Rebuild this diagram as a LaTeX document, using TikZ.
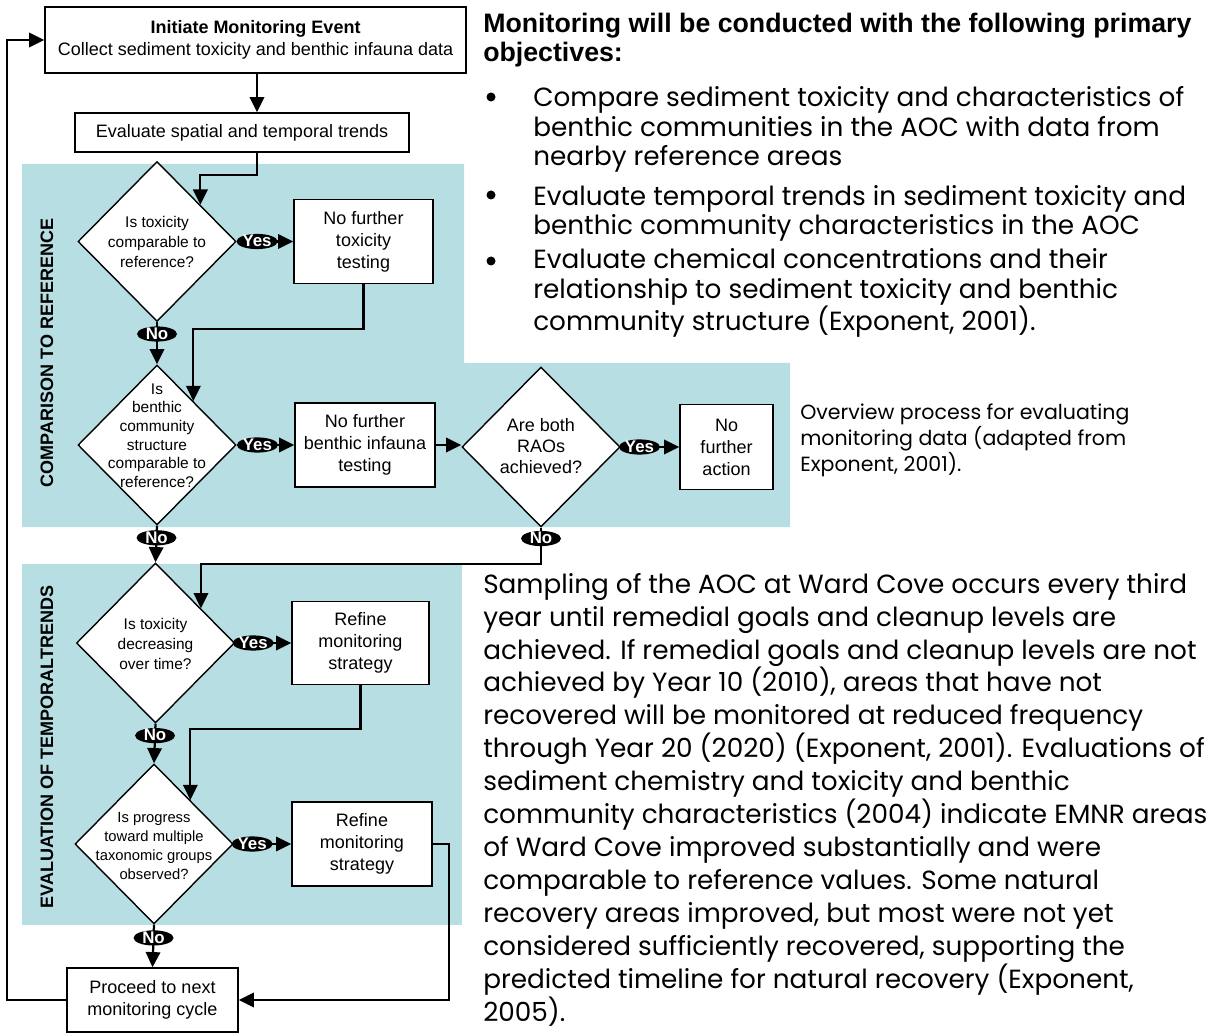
\documentclass[tikz,border=0pt]{standalone}
\usepackage{fontspec}
\setmainfont{Liberation Sans}
\newfontfamily\gothic{Poppins}
\usetikzlibrary{shapes.geometric,arrows.meta,calc}
\definecolor{panel}{RGB}{183,222,226}
% diamond text that does not size the diamond
\newcommand{\qtext}[2][-4.2pt]{\makebox[0pt]{\smash{\raisebox{#1}{\begin{tabular}{@{}c@{}}#2\end{tabular}}}}}

\begin{document}
\begin{tikzpicture}[x=0.025cm, y=-0.025cm,
  box/.style={draw, line width=1pt, fill=white, align=center, inner sep=0pt, font=\fontsize{12.8}{15.6}\selectfont},
  decision/.style={diamond, draw, line width=1pt, fill=white, inner sep=0pt, minimum width=3.95cm, minimum height=4cm, font=\fontsize{11}{14.2}\selectfont},
  yn/.style={ellipse, fill=black, text=white, inner sep=0pt, minimum width=1cm, minimum height=0.38cm, text height=7.5pt, text depth=0pt, font=\bfseries\fontsize{12}{12}\selectfont},
  flow/.style={line width=1.6pt, -{Triangle[length=0.38cm, width=0.36cm]}},
  side/.style={rotate=90, font=\bfseries\fontsize{12.8}{14}\selectfont},
  prose/.style={anchor=base west, align=left, inner sep=0pt, font=\gothic\fontsize{18.7}{21.3}\selectfont}]
  \useasboundingbox (0,0) rectangle (1210,1036);

  % Shaded panels
  \fill[panel] (22,164) -- (464,164) -- (464,363) -- (790,363) -- (790,527) -- (22,527) -- cycle;
  \fill[panel] (22,564) rectangle (462,925);
  \node[side] (cmp) at (47,353) {COMPARISON TO REFERENCE};
  \node[side] (evl) at (47,747) {EVALUATION OF TEMPORALTRENDS};

  % Boxes and decisions
  \node[box, minimum width=10.525cm, minimum height=1.65cm] (init) at (255.5,40)
    {\textbf{Initiate Monitoring Event}\\Collect sediment toxicity and benthic infauna data};
  \node[box, minimum width=8.35cm, minimum height=0.975cm] (eval) at (242,132.5)
    {Evaluate spatial and temporal trends};
  \node[decision] (dtox) at (157,241.5) {\qtext{Is toxicity\\comparable to\\reference?}};
  \node[box, minimum width=3.475cm, minimum height=2.1cm] (ntox) at (363.5,241.5)
    {No further\\toxicity\\testing};
  \node[decision, font=\fontsize{11}{13.2}\selectfont] (dben) at (157,445)
    {\qtext[2.9pt]{Is\\benthic\\community\\structure\\comparable to\\reference?}};
  \node[box, minimum width=3.5cm, minimum height=2.1cm] (nben) at (365,445)
    {No further\\benthic infauna\\testing};
  \node[decision, font=\fontsize{12.8}{15.2}\selectfont] (drao) at (541,447)
    {\qtext[-3.9pt]{Are both\\RAOs\\achieved?}};
  \node[box, minimum width=2.325cm, minimum height=2.125cm] (nact) at (726.5,447)
    {No\\further\\action};
  \node[decision] (dtrend) at (155.5,643) {\qtext{Is toxicity\\decreasing\\over time?}};
  \node[box, minimum width=3.425cm, minimum height=2.075cm] (rmon1) at (360.5,643)
    {Refine\\monitoring\\strategy};
  \node[decision, font=\fontsize{10.5}{13.7}\selectfont] (dprog) at (154,844)
    {\qtext[-4.9pt]{Is progress\\toward multiple\\taxonomic groups\\observed?}};
  \node[box, minimum width=3.5cm, minimum height=2.1cm] (rmon2) at (362,844)
    {Refine\\monitoring\\strategy};
  \node[box, minimum width=4.275cm, minimum height=1.6cm] (next) at (152.5,1000)
    {Proceed to next\\monitoring cycle};

  % Connectors
  \draw[flow] (init.south -| 257,0) -- (eval.north -| 257,0);
  \draw[flow] (eval.south -| 257,0) -- (257,175) -| ($(dtox.north)!0.544!(dtox.east)$);
  \draw[flow] (dtox.east) -- node[yn, pos=0.36] (y1) {Yes} (ntox.west);
  \draw[flow] (dtox.south) -- node[yn, pos=0.28] (n1) {No} (dben.north);
  \draw[flow] (ntox.south) -- ++(0,45) -| ($(dben.north)!0.456!(dben.east)$);
  \draw[flow] (dben.east) -- node[yn, pos=0.36] (y2) {Yes} (nben.west);
  \draw[flow] (nben.east) -- (drao.west |- nben.east);
  \draw[flow] (drao.east) -- node[yn, pos=0.32] (y3) {Yes} (nact.west);
  \draw[flow] (dben.south) -- node[yn, pos=0.33] (n2) {No} (dtrend.north);
  \draw[flow] (drao.south) -- node[yn, pos=0.3] (n3) {No} ++(0,36) -| ($(dtrend.north)!0.57!(dtrend.east)$);
  \draw[flow] (dtrend.east) -- node[yn, pos=0.32] (y4) {Yes} (rmon1.west);
  \draw[flow] (dtrend.south) -- node[yn, pos=0.3] (n4) {No} (dprog.north);
  \draw[flow] (rmon1.south) -- ++(0,44) -| ($(dprog.north)!0.456!(dprog.east)$);
  \draw[flow] (dprog.east) -- node[yn, pos=0.32] (y5) {Yes} (rmon2.west);
  \draw[flow] (dprog.south) -- node[yn, pos=0.31] (n5) {No} (next.north);
  \draw[flow] (rmon2.east) -- ++(16,0) |- (next.east);
  \draw[flow] (next.west) -- ++(-59,0) |- (init.west);

  % Objectives (base = last line)
  \node[prose, font=\bfseries\fontsize{19}{21.3}\selectfont] (head) at (483,62)
    {Monitoring will be conducted with the following primary\\objectives:};
  \foreach \y in {97,195,261} \fill (491,\y) circle (4.5);
  \node[prose] (b1) at (533,166)
    {Compare sediment toxicity and characteristics of\\benthic communities in the AOC with data from\\nearby reference areas};
  \node[prose] (b2) at (533,235)
    {Evaluate temporal trends in sediment toxicity and\\benthic community characteristics in the AOC};
  \node[prose] (b3) at (533,331)
    {Evaluate chemical concentrations and their\\relationship to sediment toxicity and benthic\\community structure (Exponent, 2001).};

  % Caption
  \node[prose, font=\gothic\fontsize{14.6}{18.5}\selectfont] (cap) at (800,472)
    {Overview process for evaluating\\monitoring data (adapted from\\Exponent, 2001).};

  % Sampling text
  \node[prose, font=\gothic\fontsize{18.7}{23.4}\selectfont] (txt) at (483,1021)
    {Sampling of the AOC at Ward Cove occurs every third\\
     year until remedial goals and cleanup levels are\\
     achieved. If remedial goals and cleanup levels are not\\
     achieved by Year 10 (2010), areas that have not\\
     recovered will be monitored at reduced frequency\\
     through Year 20 (2020) (Exponent, 2001). Evaluations of\\
     sediment chemistry and toxicity and benthic\\
     community characteristics (2004) indicate EMNR areas\\
     of Ward Cove improved substantially and were\\
     comparable to reference values. Some natural\\
     recovery areas improved, but most were not yet\\
     considered sufficiently recovered, supporting the\\
     predicted timeline for natural recovery (Exponent,\\
     2005).};
\end{tikzpicture}
\end{document}
